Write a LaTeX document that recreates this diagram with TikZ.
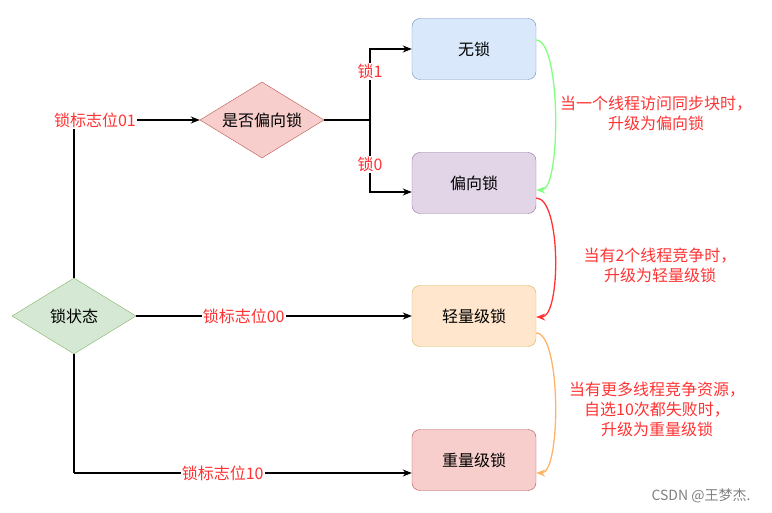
\documentclass[tikz,border=0pt]{standalone}
\usepackage{fontspec}
\setmainfont{Noto Sans CJK SC}
\usetikzlibrary{arrows.meta,calc,shapes.geometric}
\definecolor{nolockfill}{HTML}{DAE8FC}
\definecolor{nolockline}{HTML}{6C8EBF}
\definecolor{biasfill}{HTML}{E1D5E7}
\definecolor{biasline}{HTML}{9673A6}
\definecolor{lightfill}{HTML}{FFE6CC}
\definecolor{lightline}{HTML}{D6B656}
\definecolor{heavyfill}{HTML}{F8CECC}
\definecolor{heavyline}{HTML}{B85450}
\definecolor{statefill}{HTML}{D5E8D4}
\definecolor{stateline}{HTML}{82B366}
\definecolor{lockred}{HTML}{FF3333}
\definecolor{upgreen}{HTML}{80FF80}
\definecolor{uporange}{HTML}{FFB366}
\tikzset{
  lockbox/.style={draw, rounded corners=8pt, minimum width=124pt, minimum height=61pt,
    font=\fontsize{16}{18}\selectfont},
  choice/.style={diamond, draw, aspect=1.63, inner sep=0pt, minimum width=124pt,
    minimum height=76pt, font=\fontsize{16}{18}\selectfont},
  tag/.style={text=lockred, fill=white, inner sep=1pt, font=\fontsize{16}{18}\selectfont},
  note/.style={text=lockred, align=center, font=\fontsize{16}{20}\selectfont},
  arr/.style={-{Stealth[length=9pt,width=7pt]}},
  link/.style={line width=1.3pt},
}
\begin{document}
\begin{tikzpicture}[x=1pt,y=-1pt]
\useasboundingbox (0,0) rectangle (772,513);
% lock states
\node[lockbox,fill=nolockfill,draw=nolockline] (nolock) at (474,49) {无锁};
\node[lockbox,fill=biasfill,draw=biasline] (biased) at (474,183) {偏向锁};
\node[lockbox,fill=lightfill,draw=lightline] (light) at (474,316) {轻量级锁};
\node[lockbox,fill=heavyfill,draw=heavyline] (heavy) at (474,460) {重量级锁};
% decisions
\node[choice,fill=heavyfill,draw=heavyline] (isbias) at (262,120) {是否偏向锁};
\node[choice,fill=statefill,draw=stateline] (state) at (74,316) {锁状态};
\node[tag] (flag01) at (95,120) {锁标志位01};
\coordinate (fork) at (370,120);
\coordinate (bottom) at (74,473);
% flag lines
\draw[link] (state.north) -- (state.north |- flag01.south);
\draw[link,arr] (flag01.east) -- (isbias.west);
\draw[line width=2.4pt] (isbias.east) -- (fork);
\draw[link,arr] (fork) |- (nolock.west) node[pos=0.34,tag] {锁1};
\draw[link,arr] (fork) |- ([yshift=-9pt]biased.west) node[pos=0.31,tag] {锁0};
\draw[link,arr] (state.east) -- (light.west) node[pos=0.39,tag] {锁标志位00};
\draw[link] (state.south) -- (bottom);
\draw[link,arr] (bottom) -- ([yshift=-13pt]heavy.west) node[pos=0.44,tag] {锁标志位10};
% upgrades
\draw[link,arr,draw=upgreen] ([yshift=9pt]nolock.east) .. controls +(25,0) and +(25,0) .. ([yshift=-7pt]biased.east);
\draw[link,arr,draw=lockred] ([yshift=-15pt]biased.east) .. controls +(25,0) and +(25,0) .. ([yshift=-1pt]light.east);
\draw[link,arr,draw=uporange] ([yshift=-17pt]light.east) .. controls +(25,0) and +(25,0) .. ([yshift=-13pt]heavy.east);
\node[note] (note1) at (656,113) {当一个线程访问同步块时，\\升级为偏向锁};
\node[note] (note2) at (660,265) {当有2个线程竞争时，\\升级为轻量级锁};
\node[note] (note3) at (657,409) {当有更多线程竞争资源，\\自选10次都失败时，\\升级为重量级锁};
\node[text=gray, font=\fontsize{14}{16}\selectfont] (credit) at (701,496) {CSDN @王梦杰.};
\end{tikzpicture}
\end{document}
